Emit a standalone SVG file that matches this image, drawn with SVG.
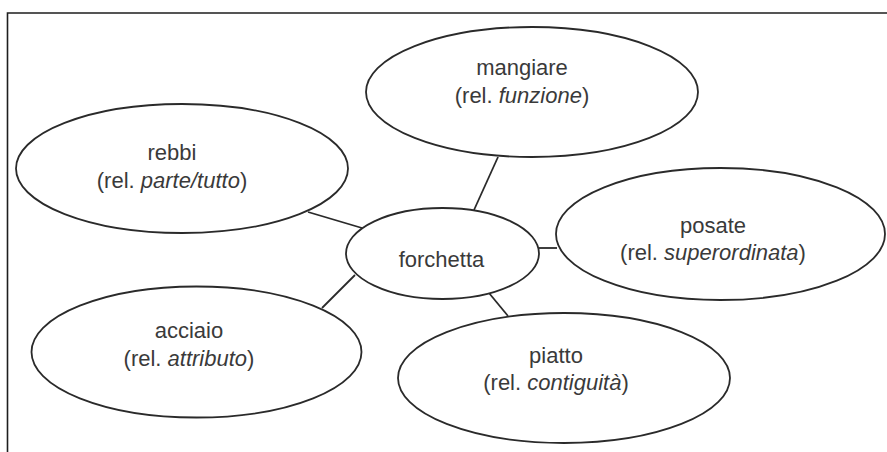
<svg xmlns="http://www.w3.org/2000/svg" width="887" height="452" viewBox="0 0 887 452">
  <style>
    .frame { stroke: #1e1e1e; stroke-width: 1.6; fill: none; }
    .node ellipse { fill: #ffffff; stroke: #2a2a2a; stroke-width: 1.8; }
    .node text { font-family: "Liberation Sans", Arial, Helvetica, sans-serif; font-size: 22px; fill: #3a3a3a; text-anchor: middle; }
    .node text .rel { font-style: italic; }
    #connectors line { stroke: #2a2a2a; stroke-width: 1.8; }
  </style>
  <rect width="887" height="452" fill="#ffffff"/>
  <!-- frame: top and left edges only -->
  <path class="frame" d="M7.5 452 V13 H887"/>

  <g id="connectors">
    <line x1="498" y1="157" x2="474" y2="210"/>
    <line x1="308" y1="212" x2="362" y2="228"/>
    <line x1="539" y1="248" x2="557" y2="248"/>
    <line x1="355" y1="275" x2="322" y2="308"/>
    <line x1="489" y1="293" x2="508" y2="316"/>
  </g>

  <g id="node-mangiare" class="node">
    <ellipse cx="532" cy="92" rx="166" ry="65"/>
    <text x="522" y="75">mangiare</text>
    <text x="522" y="103">(rel. <tspan class="rel">funzione</tspan>)</text>
  </g>

  <g id="node-rebbi" class="node">
    <ellipse cx="182" cy="168.5" rx="166" ry="64.5"/>
    <text x="172" y="160">rebbi</text>
    <text x="172" y="188">(rel. <tspan class="rel">parte/tutto</tspan>)</text>
  </g>

  <g id="node-posate" class="node">
    <ellipse cx="720.5" cy="234" rx="164.5" ry="66"/>
    <text x="713" y="233">posate</text>
    <text x="713" y="260">(rel. <tspan class="rel">superordinata</tspan>)</text>
  </g>

  <g id="node-forchetta" class="node">
    <ellipse cx="442.5" cy="253.5" rx="96.5" ry="45.5"/>
    <text x="441.5" y="267">forchetta</text>
  </g>

  <g id="node-acciaio" class="node">
    <ellipse cx="196.5" cy="352" rx="165" ry="65.5"/>
    <text x="189" y="338">acciaio</text>
    <text x="189" y="366">(rel. <tspan class="rel">attributo</tspan>)</text>
  </g>

  <g id="node-piatto" class="node">
    <ellipse cx="564" cy="378" rx="166" ry="65"/>
    <text x="556" y="363">piatto</text>
    <text x="556" y="390">(rel. <tspan class="rel">contiguità</tspan>)</text>
  </g>
</svg>
